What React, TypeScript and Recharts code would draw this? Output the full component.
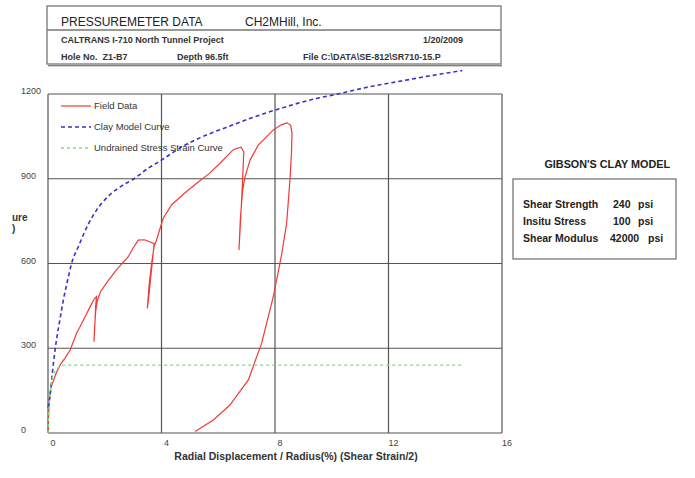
import React from 'react';
import {
  LineChart,
  Line,
  XAxis,
  YAxis,
  CartesianGrid,
  ReferenceLine,
  Legend,
} from 'recharts';

const FONT = "Arial, 'Liberation Sans', Helvetica, sans-serif";

// Axis ticks
const xTicks = [0, 4, 8, 12, 16];
const yTicks = [0, 300, 600, 900, 1200];

// Field Data: pressure vs. radial displacement / radius (%), including unload-reload loops
const fieldData = [
  { x: 0, y: 0 }, { x: 0.02, y: 60 }, { x: 0.05, y: 120 }, { x: 0.1, y: 160 },
  { x: 0.19, y: 185 }, { x: 0.3, y: 215 }, { x: 0.45, y: 245 }, { x: 0.6, y: 265 },
  { x: 0.78, y: 294 }, { x: 1.01, y: 354 }, { x: 1.13, y: 376 }, { x: 1.3, y: 410 },
  { x: 1.5, y: 450 }, { x: 1.64, y: 476 }, { x: 1.71, y: 483 }, { x: 1.68, y: 450 },
  { x: 1.65, y: 380 }, { x: 1.62, y: 323 }, { x: 1.64, y: 370 }, { x: 1.68, y: 430 },
  { x: 1.74, y: 470 }, { x: 1.85, y: 500 }, { x: 2.07, y: 532 }, { x: 2.42, y: 578 },
  { x: 2.83, y: 624 }, { x: 3.0, y: 655 }, { x: 3.18, y: 683 }, { x: 3.4, y: 684 },
  { x: 3.6, y: 676 }, { x: 3.74, y: 670 }, { x: 3.65, y: 580 }, { x: 3.55, y: 480 },
  { x: 3.5, y: 441 }, { x: 3.56, y: 520 }, { x: 3.65, y: 600 }, { x: 3.74, y: 660 },
  { x: 3.83, y: 685 }, { x: 4.06, y: 760 }, { x: 4.36, y: 808 }, { x: 4.8, y: 848 },
  { x: 5.24, y: 884 }, { x: 5.7, y: 920 }, { x: 6.06, y: 955 }, { x: 6.53, y: 1003 },
  { x: 6.8, y: 1012 }, { x: 6.9, y: 995 }, { x: 6.85, y: 880 }, { x: 6.78, y: 740 },
  { x: 6.73, y: 648 }, { x: 6.78, y: 760 }, { x: 6.86, y: 860 }, { x: 6.94, y: 905 },
  { x: 7.12, y: 966 }, { x: 7.41, y: 1019 }, { x: 7.94, y: 1073 }, { x: 8.2, y: 1090 },
  { x: 8.41, y: 1098 }, { x: 8.55, y: 1090 }, { x: 8.6, y: 1060 }, { x: 8.58, y: 990 },
  { x: 8.53, y: 900 }, { x: 8.41, y: 742 }, { x: 8.23, y: 630 }, { x: 7.94, y: 483 },
  { x: 7.53, y: 318 }, { x: 7.06, y: 188 }, { x: 6.41, y: 99 }, { x: 5.83, y: 46 },
  { x: 5.18, y: 5 },
];

// Gibson's clay model curve
const clayModel = [
  { x: 0, y: 90 }, { x: 0.07, y: 130 }, { x: 0.15, y: 210 }, { x: 0.25, y: 295 },
  { x: 0.4, y: 390 }, { x: 0.54, y: 470 }, { x: 0.7, y: 545 }, { x: 0.83, y: 600 },
  { x: 1.07, y: 660 }, { x: 1.4, y: 735 }, { x: 1.71, y: 789 }, { x: 2.2, y: 845 },
  { x: 2.6, y: 875 }, { x: 3.0, y: 898 }, { x: 3.5, y: 935 }, { x: 4.0, y: 966 },
  { x: 4.7, y: 1012 }, { x: 5.45, y: 1049 }, { x: 6.5, y: 1090 }, { x: 7.3, y: 1120 },
  { x: 8.2, y: 1149 }, { x: 9.2, y: 1178 }, { x: 10.3, y: 1202 }, { x: 11.3, y: 1225 },
  { x: 12.4, y: 1245 }, { x: 13.5, y: 1265 }, { x: 14.6, y: 1283 },
];

// Undrained stress-strain curve (elastic-perfectly plastic)
const undrained = [
  { x: 0, y: 0 }, { x: 0.03, y: 80 }, { x: 0.08, y: 150 }, { x: 0.15, y: 195 },
  { x: 0.25, y: 220 }, { x: 0.4, y: 235 }, { x: 0.55, y: 240 }, { x: 14.6, y: 240 },
];

// Header text
const headerTitle = 'PRESSUREMETER DATA';
const headerCompany = 'CH2MHill, Inc.';
const projectName = 'CALTRANS I-710 North Tunnel Project';
const testDate = '1/20/2009';
const holeNo = 'Hole No.  Z1-B7';
const depthText = 'Depth 96.5ft';
const fileText = 'File C:\\DATA\\SE-812\\SR710-15.P';

// Visible part of the y axis title, which runs off the left edge of the sheet
const yTitleTail = 'ure';
const yTitleUnitTail = ')';

// Model parameters
const modelTitle = "GIBSON'S CLAY MODEL";
const modelLabels = ['Shear Strength', 'Insitu Stress', 'Shear Modulus'];
const modelValues = ['240', '100', '42000'];
const modelUnits = ['psi', 'psi', 'psi'];

const seriesOrder = ['Field Data', 'Clay Model Curve', 'Undrained Stress Strain Curve'];
const seriesStyle: Record<string, { color: string; dash?: string; width: number }> = {
  'Field Data': { color: '#f03a3a', width: 1.2 },
  'Clay Model Curve': { color: '#3434c8', dash: '4 3', width: 1.6 },
  'Undrained Stress Strain Curve': { color: '#78e278', dash: '3 3', width: 1.3 },
};

const GRID = '#555';

const XTick = (props: any) => {
  const { x, payload } = props;
  return (
    <text x={x + 5} y={446} textAnchor="middle" fontSize={9} fill="#444" fontFamily={FONT}>
      {payload.value}
    </text>
  );
};

const YTick = (props: any) => {
  const { y, payload } = props;
  return (
    <text x={21} y={y - 3} dy="0.35em" textAnchor="start" fontSize={9} fill="#444" fontFamily={FONT}>
      {payload.value}
    </text>
  );
};

const renderLegend = (props: any) => {
  const payload = [...(props.payload || [])].sort(
    (a: any, b: any) => seriesOrder.indexOf(a.value) - seriesOrder.indexOf(b.value)
  );
  return (
    <div style={{ fontFamily: FONT, fontSize: 9.5, color: '#333' }}>
      {payload.map((entry: any) => {
        const st = seriesStyle[entry.value] || { color: entry.color, width: 1.2 };
        return (
          <div key={entry.value} style={{ display: 'flex', alignItems: 'center', height: 21 }}>
            <svg width={33} height={6} style={{ display: 'block' }}>
              <line
                x1={1}
                y1={3}
                x2={31}
                y2={3}
                stroke={st.color}
                strokeWidth={st.width}
                strokeDasharray={st.dash}
              />
            </svg>
            <span style={{ marginLeft: 1, whiteSpace: 'nowrap' }}>{entry.value}</span>
          </div>
        );
      })}
    </div>
  );
};

export default function App() {
  return (
    <div
      style={{
        position: 'absolute',
        left: 0,
        top: 0,
        width: 695,
        height: 478,
        background: '#fff',
        fontFamily: FONT,
      }}
    >
      <LineChart
        width={695}
        height={478}
        margin={{ top: 65.75, right: 193, bottom: 31, left: 28 }}
      >
        <CartesianGrid horizontal vertical={false} stroke={GRID} strokeWidth={1.2} />
        <XAxis
          type="number"
          dataKey="x"
          domain={[0, 16]}
          ticks={xTicks}
          height={14}
          axisLine={false}
          tickLine={false}
          tick={<XTick />}
          interval={0}
        />
        <YAxis
          type="number"
          dataKey="y"
          domain={[0, 1300]}
          ticks={yTicks}
          width={20}
          axisLine={false}
          tickLine={false}
          tick={<YTick />}
          interval={0}
        />
        {xTicks.map((v) => (
          <ReferenceLine
            key={v}
            segment={[
              { x: v, y: yTicks[0] },
              { x: v, y: yTicks[yTicks.length - 1] },
            ]}
            stroke={GRID}
            strokeWidth={1.2}
            ifOverflow="visible"
          />
        ))}
        <Legend
          layout="vertical"
          align="center"
          verticalAlign="middle"
          content={renderLegend}
          wrapperStyle={{ left: 60, top: 95, bottom: 'auto', right: 'auto', width: 'auto', height: 'auto' }}
        />
        <Line
          name="Field Data"
          data={fieldData}
          dataKey="y"
          type="linear"
          stroke={seriesStyle['Field Data'].color}
          strokeWidth={seriesStyle['Field Data'].width}
          dot={false}
          isAnimationActive={false}
        />
        <Line
          name="Clay Model Curve"
          data={clayModel}
          dataKey="y"
          type="monotone"
          stroke={seriesStyle['Clay Model Curve'].color}
          strokeWidth={seriesStyle['Clay Model Curve'].width}
          strokeDasharray={seriesStyle['Clay Model Curve'].dash}
          dot={false}
          isAnimationActive={false}
        />
        <Line
          name="Undrained Stress Strain Curve"
          data={undrained}
          dataKey="y"
          type="linear"
          stroke={seriesStyle['Undrained Stress Strain Curve'].color}
          strokeWidth={seriesStyle['Undrained Stress Strain Curve'].width}
          strokeDasharray={seriesStyle['Undrained Stress Strain Curve'].dash}
          dot={false}
          isAnimationActive={false}
        />
      </LineChart>

      <svg
        width={695}
        height={478}
        style={{ position: 'absolute', left: 0, top: 0, pointerEvents: 'none' }}
        fontFamily={FONT}
      >
        {/* Header block */}
        <rect x={47} y={6} width={454} height={58} fill="none" stroke="#777" strokeWidth={1.3} />
        <line x1={47} y1={30} x2={501} y2={30} stroke="#777" strokeWidth={1.3} />
        <text x={61} y={26} fontSize={12} fill="#222">{headerTitle}</text>
        <text x={245} y={26} fontSize={12} fill="#222">{headerCompany}</text>
        <text x={61} y={43} fontSize={9} fontWeight="bold" fill="#333">{projectName}</text>
        <text x={463} y={43} fontSize={9} fontWeight="bold" fill="#333" textAnchor="end">{testDate}</text>
        <text x={61} y={59.5} fontSize={9} fontWeight="bold" fill="#333" style={{ whiteSpace: 'pre' }}>{holeNo}</text>
        <text x={177} y={59.5} fontSize={9} fontWeight="bold" fill="#333">{depthText}</text>
        <text x={303} y={59.5} fontSize={9} fontWeight="bold" fill="#333">{fileText}</text>

        {/* Y axis title */}
        <text x={12} y={221} fontSize={10} fontWeight="bold" fill="#333">{yTitleTail}</text>
        <text x={12} y={232} fontSize={10} fontWeight="bold" fill="#333">{yTitleUnitTail}</text>

        {/* X axis title */}
        <text x={296} y={460} fontSize={10.5} fontWeight="bold" fill="#333" textAnchor="middle">
          Radial Displacement / Radius(%) (Shear Strain/2)
        </text>

        {/* Model parameters panel */}
        <text x={670} y={168} fontSize={10.8} fontWeight="bold" fill="#222" textAnchor="end">{modelTitle}</text>
        <rect x={513} y={179} width={163} height={80} fill="none" stroke="#777" strokeWidth={1.3} />
        {modelLabels.map((lab, i) => (
          <g key={lab}>
            <text x={523} y={208 + i * 17} fontSize={10.5} fontWeight="bold" fill="#222">{lab}</text>
            <text x={i === 2 ? 610 : 613} y={208 + i * 17} fontSize={10.5} fontWeight="bold" fill="#222">{modelValues[i]}</text>
            <text x={i === 2 ? 648 : 638} y={208 + i * 17} fontSize={10.5} fontWeight="bold" fill="#222">{modelUnits[i]}</text>
          </g>
        ))}
      </svg>
    </div>
  );
}
